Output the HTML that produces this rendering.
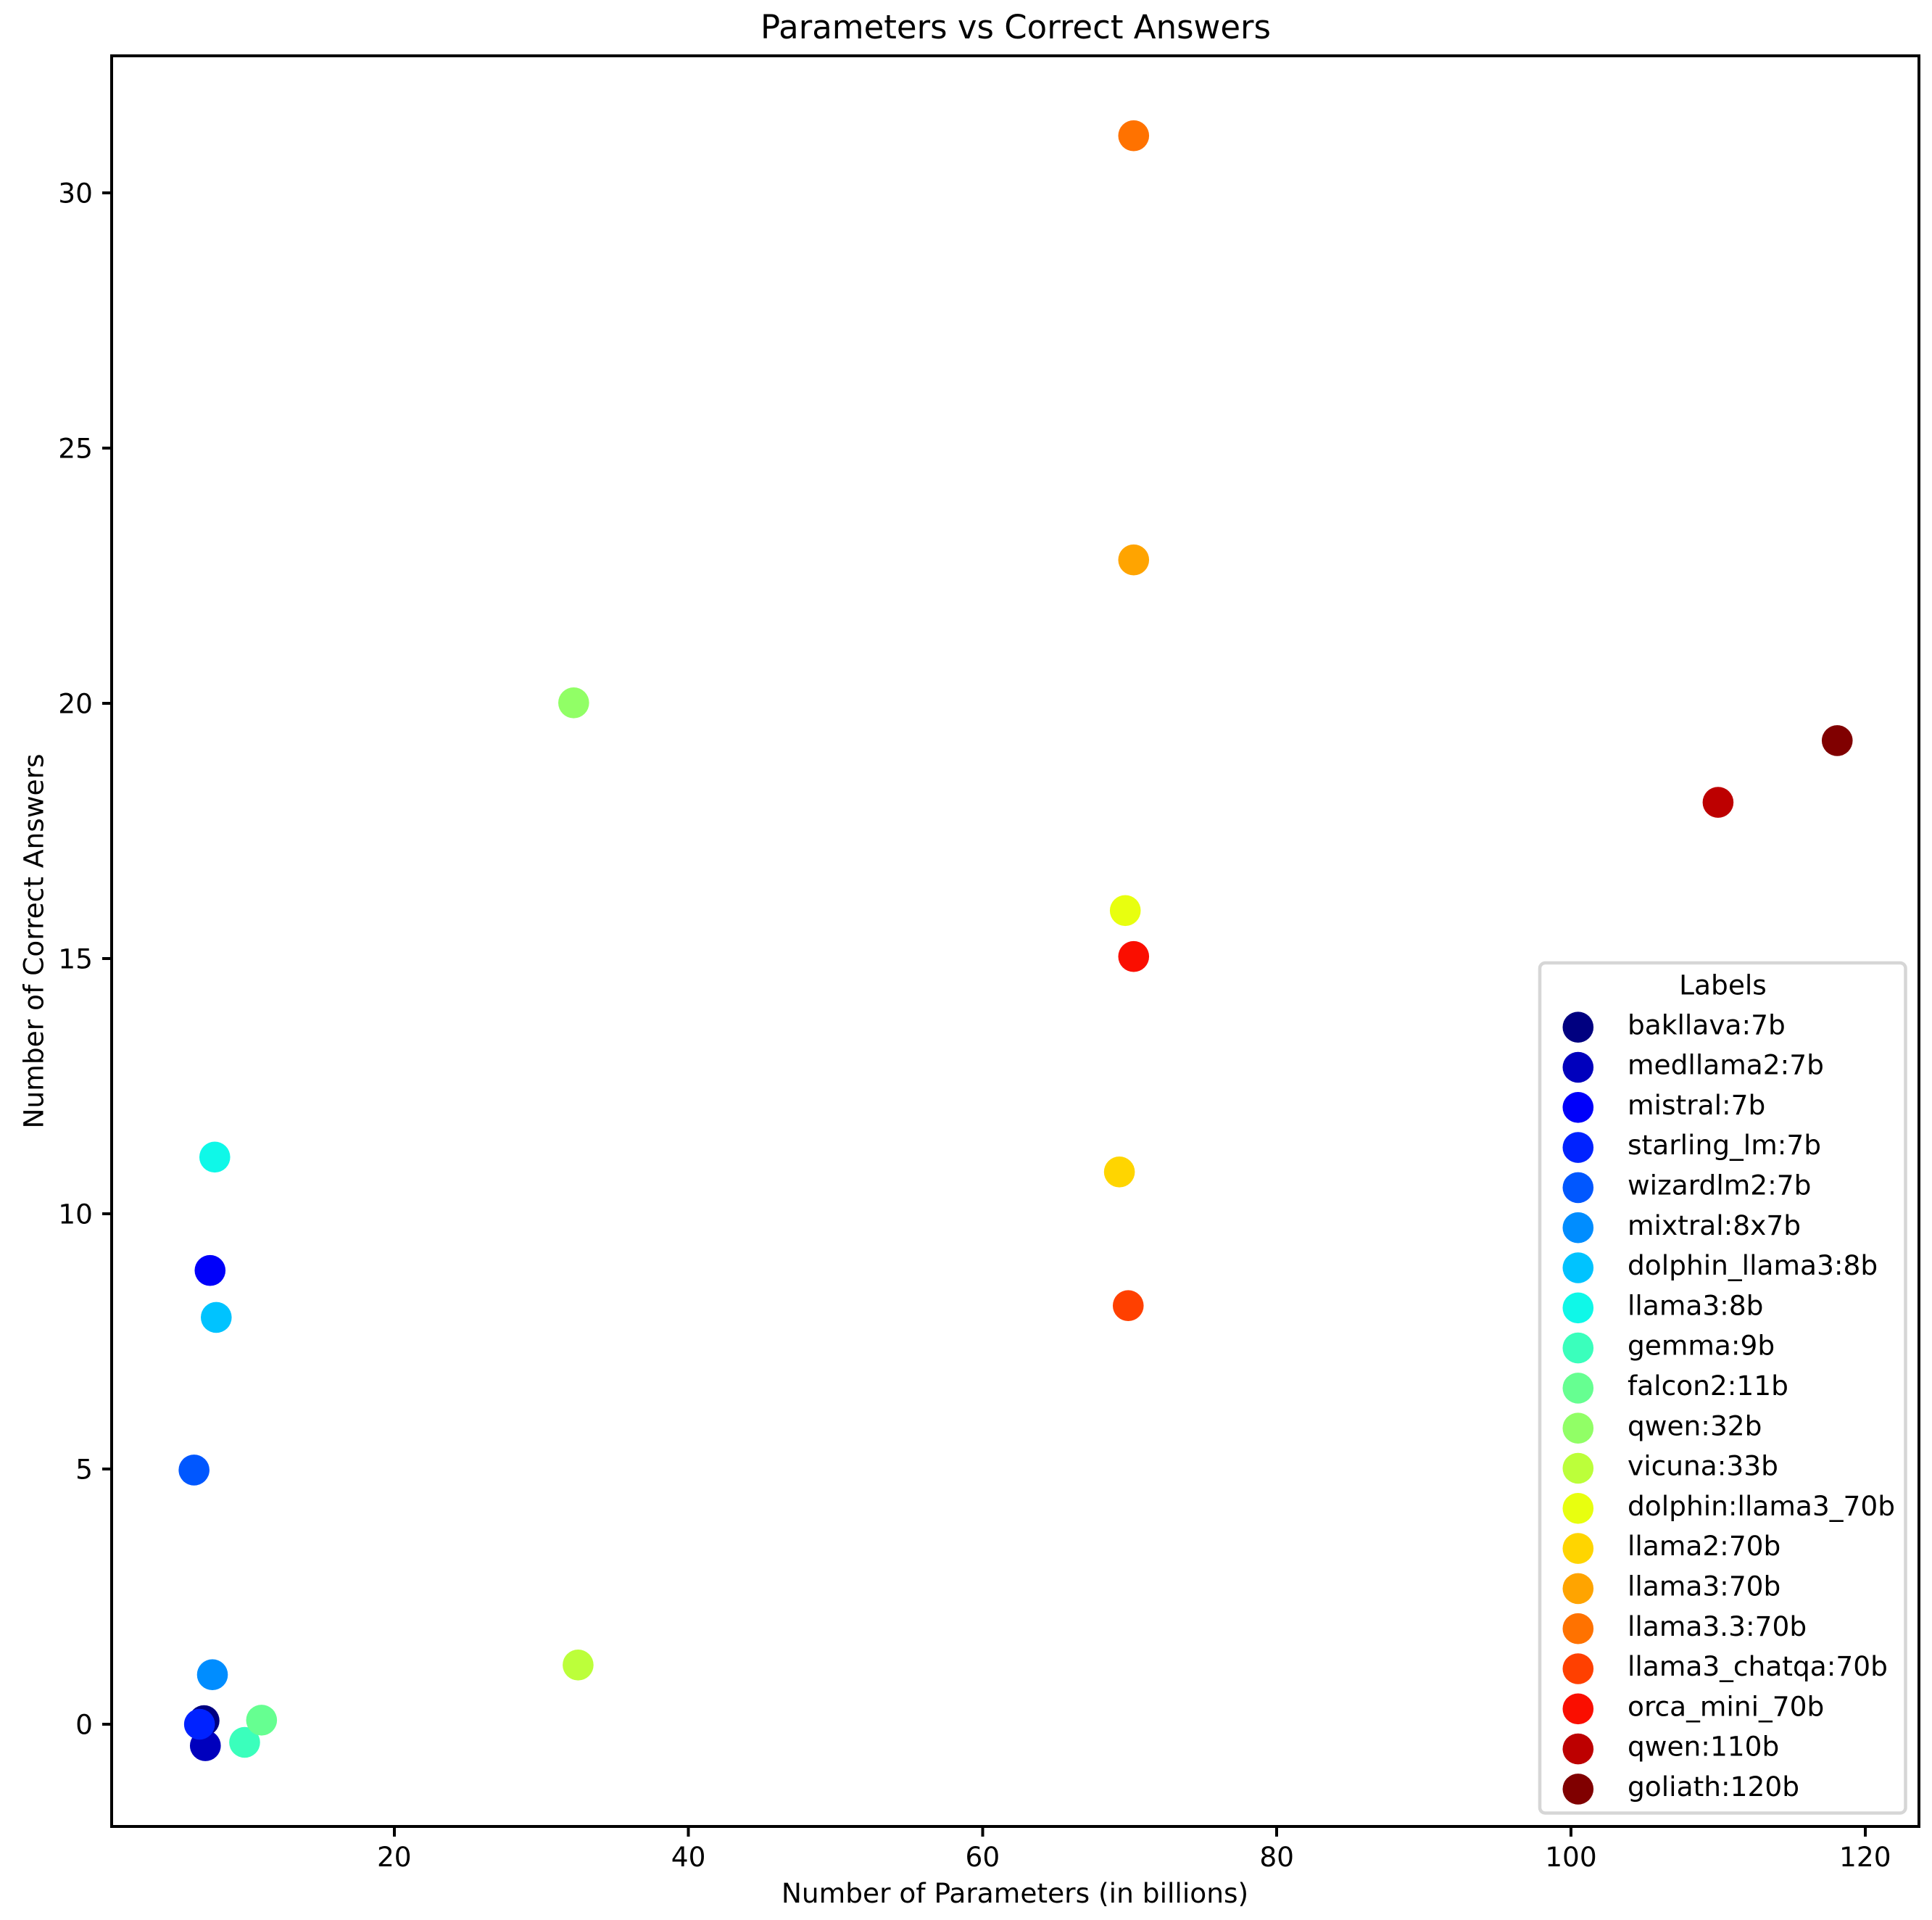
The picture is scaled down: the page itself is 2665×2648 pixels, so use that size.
<!DOCTYPE html>
<html lang="en">
<head>
<meta charset="utf-8">
<title>Parameters vs Correct Answers</title>
<style>
html,body{margin:0;padding:0;background:#fff;}
svg{display:block;}
text{font-family:"DejaVu Sans","Liberation Sans",sans-serif;fill:#000;font-size:37.5px;}
</style>
</head>
<body>
<svg id="chart" xmlns="http://www.w3.org/2000/svg" width="2665" height="2648" viewBox="0 0 2665 2648">
  <rect x="0" y="0" width="2665" height="2648" fill="#ffffff"/>
  <g id="marks"></g>
  <g id="x-ticks"></g>
  <g id="y-ticks"></g>
  <rect x="154" y="77" width="2493" height="2442" fill="none" stroke="#000" stroke-width="4" shape-rendering="crispEdges"/>
  <text x="1401" y="53" text-anchor="middle" style="font-size:45px">Parameters vs Correct Answers</text>
  <text x="1400" y="2624" text-anchor="middle">Number of Parameters (in billions)</text>
  <text x="59.5" y="1298" text-anchor="middle" transform="rotate(-90 59.5 1298)">Number of Correct Answers</text>
  <g id="legend">
    <rect x="2124" y="1328" width="504.5" height="1172.5" rx="7.5" ry="7.5" fill="#ffffff" fill-opacity="0.8" stroke="#d6d6d6" stroke-width="4.5"/>
    <text x="2376.5" y="1371.6" text-anchor="middle">Labels</text>
  </g>
</svg>
<script>
const labels = ["bakllava:7b","medllama2:7b","mistral:7b","starling_lm:7b","wizardlm2:7b","mixtral:8x7b","dolphin_llama3:8b","llama3:8b","gemma:9b","falcon2:11b","qwen:32b","vicuna:33b","dolphin:llama3_70b","llama2:70b","llama3:70b","llama3.3:70b","llama3_chatqa:70b","orca_mini_70b","qwen:110b","goliath:120b"];
const paramsBillions = [7.07,7.16,7.48,6.76,6.39,7.64,7.9,7.8,9.83,10.98,32.2,32.5,69.7,69.3,70.27,70.27,69.9,70.27,110,118.1];
const correctAnswers = [0.07,-0.42,8.89,0.0,4.98,0.97,7.97,11.11,-0.355,0.08,20.01,1.16,15.94,10.82,22.81,31.12,8.2,15.04,18.06,19.27];
const xTickValues = [20,40,60,80,100,120];
const yTickValues = [0,5,10,15,20,25,30];

const SVG_NS = "http://www.w3.org/2000/svg";
const xAxis = v => 543.8 + (v - 20) * 20.29;
const yAxis = v => 2378 - v * 70.4;

function jetChannel(t, stops) {
  for (let i = 1; i < stops.length; i++) {
    if (t <= stops[i][0]) {
      const a = stops[i - 1], b = stops[i];
      return a[1] + (b[1] - a[1]) * (t - a[0]) / (b[0] - a[0]);
    }
  }
  return stops[stops.length - 1][1];
}
function jetColor(t) {
  const r = jetChannel(t, [[0,0],[0.35,0],[0.66,1],[0.89,1],[1,0.5]]);
  const g = jetChannel(t, [[0,0],[0.125,0],[0.375,1],[0.64,1],[0.91,0],[1,0]]);
  const b = jetChannel(t, [[0,0.5],[0.11,1],[0.34,1],[0.65,0],[1,0]]);
  return "rgb(" + Math.round(r * 255) + "," + Math.round(g * 255) + "," + Math.round(b * 255) + ")";
}
function make(tag, parent) {
  const el = document.createElementNS(SVG_NS, tag);
  parent.appendChild(el);
  return el;
}

const marks = document.getElementById("marks");
const legend = document.getElementById("legend");
const xTicks = document.getElementById("x-ticks");
const yTicks = document.getElementById("y-ticks");

labels.forEach((label, i) => {
  const color = jetColor(i / (labels.length - 1));
  const slug = label.replace(/[^a-zA-Z0-9]+/g, "-").toLowerCase();

  const point = make("circle", marks);
  point.setAttribute("cx", xAxis(paramsBillions[i]));
  point.setAttribute("cy", yAxis(correctAnswers[i]));
  point.setAttribute("r", 21.3);
  point.setAttribute("fill", color);
  
  

  const rowY = 1416.7 + i * 55.3;
  const swatch = make("circle", legend);
  swatch.setAttribute("cx", 2176.8);
  swatch.setAttribute("cy", rowY);
  swatch.setAttribute("r", 21.3);
  swatch.setAttribute("fill", color);
  
  

  const entry = make("text", legend);
  entry.setAttribute("x", 2245);
  entry.setAttribute("y", rowY + 9.6);
  entry.textContent = label;
  
  
});

xTickValues.forEach(v => {
  const tick = make("line", xTicks);
  tick.setAttribute("x1", xAxis(v));
  tick.setAttribute("x2", xAxis(v));
  tick.setAttribute("y1", 2519);
  tick.setAttribute("y2", 2533);
  tick.setAttribute("stroke", "#000");
  tick.setAttribute("stroke-width", 4);
  tick.setAttribute("shape-rendering", "crispEdges");
  
  

  const text = make("text", xTicks);
  text.setAttribute("x", xAxis(v));
  text.setAttribute("y", 2574);
  text.setAttribute("text-anchor", "middle");
  text.textContent = v;
  
  
});

yTickValues.forEach(v => {
  const tick = make("line", yTicks);
  tick.setAttribute("x1", 141);
  tick.setAttribute("x2", 154);
  tick.setAttribute("y1", yAxis(v));
  tick.setAttribute("y2", yAxis(v));
  tick.setAttribute("stroke", "#000");
  tick.setAttribute("stroke-width", 4);
  tick.setAttribute("shape-rendering", "crispEdges");
  
  

  const text = make("text", yTicks);
  text.setAttribute("x", 128);
  text.setAttribute("y", yAxis(v) + 13.7);
  text.setAttribute("text-anchor", "end");
  text.textContent = v;
  
  
});
</script>
</body>
</html>
